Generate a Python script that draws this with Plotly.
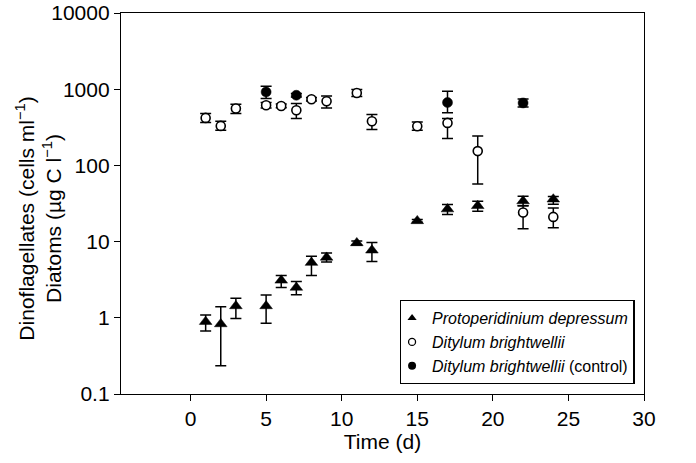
import plotly.graph_objects as go

# ---- data ----
# Protoperidinium depressum (cells ml-1)
pd_day = [1, 2, 3, 5, 6, 7, 8, 9, 11, 12, 15, 17, 19, 22, 24]
pd_val = [0.89, 0.83, 1.43, 1.43, 3.1, 2.5, 5.3, 6.2, 9.6, 7.7, 18.7, 26.7, 29.5, 34.0, 36.0]
pd_hi = [1.09, 1.40, 1.80, 1.99, 3.6, 3.0, 6.4, 7.1, 10.2, 9.7, 19.5, 30.7, 33.9, 39.5, 39.0]
pd_lo = [0.67, 0.235, 0.98, 0.85, 2.5, 2.0, 3.6, 5.4, 9.0, 5.5, 18.0, 22.7, 25.0, 29.5, 31.0]

# Ditylum brightwellii (ug C l-1)
db_day = [1, 2, 3, 5, 6, 7, 8, 9, 11, 12, 15, 17, 19, 22, 24]
db_val = [420, 330, 557, 616, 603, 530, 738, 695, 893, 380, 327, 361, 154, 24.1, 21.1]
db_hi = [480, 380, 635, 670, 640, 648, 780, 817, 990, 465, 370, 412, 244, 29.5, 27.7]
db_lo = [365, 290, 480, 565, 570, 412, 700, 568, 800, 296, 290, 225, 57, 14.8, 15.2]

# Ditylum brightwellii control (ug C l-1)
dc_day = [5, 7, 17, 22]
dc_val = [920, 833, 668, 660]
dc_hi = [1094, 880, 940, 745]
dc_lo = [755, 790, 489, 585]

x_ticks = [0, 5, 10, 15, 20, 25, 30]
y_ticks = [0.1, 1, 10, 100, 1000, 10000]
y_tick_labels = ["0.1", "1", "10", "100", "1000", "10000"]

legend_names = ["<i>Protoperidinium depressum</i>",
                "<i>Ditylum brightwellii</i>",
                "<i>Ditylum brightwellii</i> (control)"]

FONT = "Liberation Sans, Arial, Helvetica, sans-serif"


def err(vals, hi, lo):
    plus = [h - v for v, h in zip(vals, hi)]
    minus = [v - l for v, l in zip(vals, lo)]
    return dict(type="data", symmetric=False, array=plus, arrayminus=minus,
                color="black", thickness=1.5, width=5.5)


fig = go.Figure()

fig.add_trace(go.Scatter(
    x=db_day, y=db_val, mode="markers", showlegend=False,
    marker=dict(symbol="circle", size=9, color="white",
                line=dict(color="black", width=1.6)),
    error_y=err(db_val, db_hi, db_lo)))

fig.add_trace(go.Scatter(
    x=pd_day, y=pd_val, mode="markers", showlegend=False,
    marker=dict(symbol="triangle-up", size=11, color="black",
                line=dict(color="black", width=0.5)),
    error_y=err(pd_val, pd_hi, pd_lo)))

fig.add_trace(go.Scatter(
    x=dc_day, y=dc_val, mode="markers", showlegend=False,
    marker=dict(symbol="circle", size=10, color="black",
                line=dict(color="black", width=0.5)),
    error_y=err(dc_val, dc_hi, dc_lo)))

# legend-only entries (smaller symbols as in the reference legend)
fig.add_trace(go.Scatter(x=[None], y=[None], mode="markers", name=legend_names[0],
                         marker=dict(symbol="triangle-up", size=8, color="black")))
fig.add_trace(go.Scatter(x=[None], y=[None], mode="markers", name=legend_names[1],
                         marker=dict(symbol="circle", size=7, color="white",
                                     line=dict(color="black", width=1.3))))
fig.add_trace(go.Scatter(x=[None], y=[None], mode="markers", name=legend_names[2],
                         marker=dict(symbol="circle", size=8, color="black")))

axis_common = dict(showline=True, linecolor="black", linewidth=1.3, mirror=True,
                   ticks="outside", ticklen=6, tickwidth=1.3, tickcolor="black",
                   showgrid=False, zeroline=False, automargin=False,
                   ticklabeloverflow="allow",
                   tickfont=dict(family=FONT, size=21, color="black"))

fig.update_xaxes(range=[-4.6, 30], tickvals=x_ticks,
                 title=dict(text="Time (d)", font=dict(family=FONT, size=21, color="black"),
                            standoff=0),
                 **axis_common)
fig.update_yaxes(type="log", range=[-1, 4], tickvals=y_ticks, ticktext=y_tick_labels,
                 **axis_common)

fig.add_annotation(
    text="Dinoflagellates (cells ml<sup>−1</sup>)<br>Diatoms (µg C l<sup>−1</sup>)",
    xref="paper", yref="paper", x=-0.157, y=0.46, xanchor="center", yanchor="middle",
    textangle=-90, showarrow=False,
    font=dict(family=FONT, size=21, color="black"))

fig.update_layout(
    width=696, height=463,
    margin=dict(l=121, r=52, t=13, b=69, autoexpand=False),
    paper_bgcolor="white", plot_bgcolor="white",
    legend=dict(x=0.533, y=0.247, xanchor="left", yanchor="top",
                bordercolor="black", borderwidth=1.3, bgcolor="white",
                font=dict(family=FONT, size=16, color="black"),
                itemwidth=30, tracegroupgap=0, indentation=-9),
)

# remove the browser's default 8px body margin so the figure fills the window
fig.write_html("out.html", config={"displayModeBar": False},
               post_script="document.body.style.margin='0';")
